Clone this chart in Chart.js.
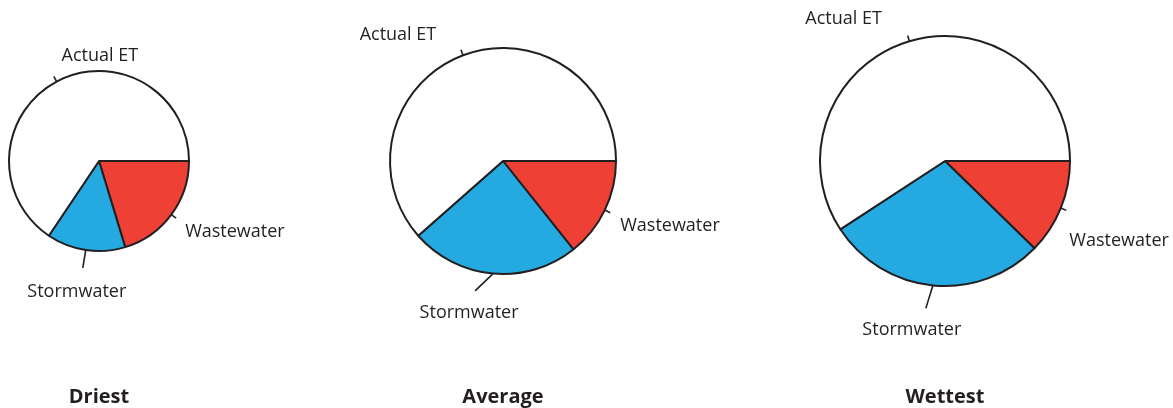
<!DOCTYPE html>
<html>
<head>
<meta charset="utf-8">
<script src="https://cdn.jsdelivr.net/npm/chart.js@4.4.1/dist/chart.umd.min.js"></script>
<style>
  html, body { margin: 0; padding: 0; background: #fff; }
  #wrap { position: relative; width: 1173px; height: 408px; overflow: hidden; }
  #wrap canvas { position: absolute; left: 0; top: 0; }
  .pie-title {
    position: absolute; top: 382px; width: 200px; margin-left: -100px;
    text-align: center; font: bold 20px "Open Sans", sans-serif; color: #231f20;
  }
</style>
</head>
<body>
<div id="wrap">
  <canvas id="pie-0" width="1173" height="408"></canvas>
  <canvas id="pie-1" width="1173" height="408"></canvas>
  <canvas id="pie-2" width="1173" height="408"></canvas>
</div>
<script>
// ---- data (percent of each scenario's budget) ----
const scenarios = ['Driest', 'Average', 'Wettest'];
const categories = ['Wastewater', 'Stormwater', 'Actual ET'];
const wastewater = [20.3, 14.3, 12.3];
const stormwater = [14.1, 24.2, 28.5];
const actualET   = [65.6, 61.5, 59.2];

// ---- layout / style ----
const sliceColors = ['#ee4035', '#24aae1', '#ffffff'];
const ink = '#231f20';
const layoutCfg = [
  { cx: 99,  cy: 161, r: 90 },
  { cx: 503, cy: 161, r: 113 },
  { cx: 945, cy: 161, r: 125 }
];
// per chart: tick length, optional tick direction (deg), text offset from tick end, alignment
const labelCfg = [
  [ { len: 6, dx: 9, dy: 14, align: 'left' },
    { len: 18, dir: 99.5, dx: -6, dy: 24, align: 'center' },
    { len: 6, dx: 46, dy: -20, align: 'center' } ],
  [ { len: 6, dx: 10, dy: 13, align: 'left' },
    { len: 25, dir: 136, dx: -6, dy: 22, align: 'center' },
    { len: 6, dx: -63, dy: -15, align: 'center' } ],
  [ { len: 6, dx: 3, dy: 31, align: 'left' },
    { len: 24, dir: 107, dx: -14, dy: 22, align: 'center' },
    { len: 6, dx: -64, dy: -17, align: 'center' } ]
];

// Labels with a short leader tick at each slice's mid angle
const sliceLabels = {
  id: 'sliceLabels',
  afterDatasetsDraw(chart, args, opts) {
    const ctx = chart.ctx;
    const arcs = chart.getDatasetMeta(0).data;
    ctx.save();
    ctx.strokeStyle = ink;
    ctx.lineWidth = 1.6;
    ctx.fillStyle = ink;
    ctx.font = '18px "Open Sans", sans-serif';
    ctx.textBaseline = 'middle';
    arcs.forEach((arc, i) => {
      const cfg = opts.items[i];
      const p = arc.getProps(['x', 'y', 'startAngle', 'endAngle', 'outerRadius'], true);
      const mid = (p.startAngle + p.endAngle) / 2;
      const sx = p.x + Math.cos(mid) * p.outerRadius;
      const sy = p.y + Math.sin(mid) * p.outerRadius;
      const dir = cfg.dir !== undefined ? cfg.dir * Math.PI / 180 : mid;
      const ex = sx + Math.cos(dir) * cfg.len;
      const ey = sy + Math.sin(dir) * cfg.len;
      ctx.beginPath();
      ctx.moveTo(sx, sy);
      ctx.lineTo(ex, ey);
      ctx.stroke();
      ctx.textAlign = cfg.align;
      ctx.fillText(chart.data.labels[i], ex + cfg.dx, ey + cfg.dy);
    });
    ctx.restore();
  }
};

scenarios.forEach((name, k) => {
  const L = layoutCfg[k];
  new Chart(document.getElementById('pie-' + k), {
    type: 'pie',
    data: {
      labels: categories,
      datasets: [{
        data: [wastewater[k], stormwater[k], actualET[k]],
        backgroundColor: sliceColors,
        borderColor: ink,
        borderWidth: 2,
        radius: L.r
      }]
    },
    options: {
      responsive: false,
      animation: false,
      events: [],
      rotation: 90,
      layout: {
        padding: {
          left: L.cx - L.r,
          right: 1173 - (L.cx + L.r),
          top: L.cy - L.r,
          bottom: 408 - (L.cy + L.r)
        }
      },
      plugins: {
        legend: { display: false },
        tooltip: { enabled: false },
        sliceLabels: { items: labelCfg[k] }
      }
    },
    plugins: [sliceLabels]
  });

  const t = document.createElement('div');
  t.className = 'pie-title';
  t.style.left = L.cx + 'px';
  t.textContent = name;
  document.getElementById('wrap').appendChild(t);
});
</script>
</body>
</html>
